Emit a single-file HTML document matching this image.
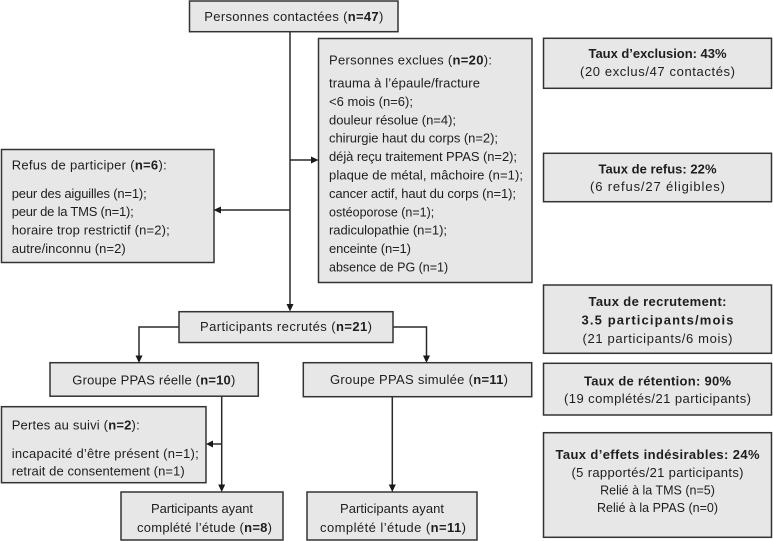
<!DOCTYPE html>
<html>
<head>
<meta charset="utf-8">
<style>
  html,body{margin:0;padding:0;background:#fff;}
  svg{display:block;}
  text{font-family:"Liberation Sans", Arial, sans-serif;font-size:13px;fill:#1e1e1e;}
  .b{font-weight:bold;}
  .s{font-size:12.5px;}
</style>
</head>
<body>
<svg width="773" height="541" viewBox="0 0 773 541" xmlns="http://www.w3.org/2000/svg">
  <rect x="0" y="0" width="773" height="541" fill="#fff"/>

  <!-- connector lines -->
  <g stroke="#2a2a2a" stroke-width="1.5" fill="none">
    <line x1="290" y1="32" x2="290" y2="305"/>
    <line x1="290" y1="160" x2="312" y2="160"/>
    <line x1="290" y1="210" x2="220" y2="210"/>
    <polyline points="179,327 139,327 139,357"/>
    <polyline points="393,327 426.5,327 426.5,357"/>
    <line x1="221.7" y1="396" x2="221.7" y2="486"/>
    <line x1="221.7" y1="444" x2="212" y2="444"/>
    <line x1="392.3" y1="397" x2="392.3" y2="486"/>
  </g>

  <!-- boxes -->
  <g fill="#e7e7e7" stroke="#333" stroke-width="1.5">
    <rect x="189.5" y="1" width="208.5" height="30.7"/>
    <rect x="318.5" y="38.5" width="213.5" height="244"/>
    <rect x="1.5" y="149.5" width="212.5" height="113"/>
    <rect x="179" y="311.7" width="214" height="30.8"/>
    <rect x="50" y="362.7" width="208.3" height="33.5"/>
    <rect x="303.3" y="362.7" width="228.4" height="34"/>
    <rect x="1.5" y="406.7" width="204.5" height="76"/>
    <rect x="121" y="492" width="162" height="48"/>
    <rect x="307" y="492" width="170" height="48"/>
    <rect x="543.5" y="38.3" width="228" height="50"/>
    <rect x="543.5" y="153.3" width="228" height="48.4"/>
    <rect x="543.5" y="285" width="228" height="68.3"/>
    <rect x="543.5" y="363.3" width="228" height="51.7"/>
    <rect x="543.5" y="432.7" width="228" height="104.6"/>
  </g>

  <!-- arrowheads -->
  <g fill="#1a1a1a">
    <polygon points="286.5,304 293.5,304 290,311.5"/>
    <polygon points="311,156.5 311,163.5 318.5,160"/>
    <polygon points="221,206.5 221,213.5 213.5,210"/>
    <polygon points="135.5,355.5 142.5,355.5 139,363"/>
    <polygon points="423,355.5 430,355.5 426.5,363"/>
    <polygon points="218.2,484.5 225.2,484.5 221.7,492"/>
    <polygon points="213,440.5 213,447.5 206,444"/>
    <polygon points="388.8,484.5 395.8,484.5 392.3,492"/>
  </g>

  <!-- top box -->
  <text x="204.3" y="21" textLength="179">Personnes contactées (<tspan class="b">n=47</tspan>)</text>

  <!-- excluded box -->
  <text x="329" y="64.5" textLength="163">Personnes exclues (<tspan class="b">n=20</tspan>):</text>
  <text x="329" y="87.5" textLength="151">trauma à l’épaule/fracture</text>
  <text x="329" y="105.9" textLength="84">&lt;6 mois (n=6);</text>
  <text x="329" y="124.3" textLength="127">douleur résolue (n=4);</text>
  <text x="329" y="142.7" textLength="169">chirurgie haut du corps (n=2);</text>
  <text x="329" y="161.1" textLength="188">déjà reçu traitement PPAS (n=2);</text>
  <text x="329" y="179.5" textLength="194">plaque de métal, mâchoire  (n=1);</text>
  <text x="329" y="197.9" textLength="187">cancer actif, haut du corps (n=1);</text>
  <text class="s" x="329" y="216.3">ostéoporose (n=1);</text>
  <text x="329" y="234.7" textLength="118">radiculopathie (n=1);</text>
  <text x="329" y="253.1" textLength="82">enceinte (n=1)</text>
  <text class="s" x="329" y="271.5">absence de PG (n=1)</text>

  <!-- refus box -->
  <text x="11.7" y="169.5" textLength="155">Refus de participer (<tspan class="b">n=6</tspan>):</text>
  <text x="11.7" y="197.8" textLength="135">peur des aiguilles (n=1);</text>
  <text x="11.7" y="216.2" textLength="122">peur de la TMS (n=1);</text>
  <text x="11.7" y="234.5" textLength="158">horaire trop restrictif (n=2);</text>
  <text x="11.7" y="252.8" textLength="114">autre/inconnu (n=2)</text>

  <!-- recrutés -->
  <text x="200" y="331.2" textLength="172">Participants recrutés (<tspan class="b">n=21</tspan>)</text>

  <!-- groups -->
  <text x="72.3" y="384.5" textLength="163">Groupe PPAS réelle (<tspan class="b">n=10</tspan>)</text>
  <text x="330" y="384.2" textLength="178">Groupe PPAS simulée (<tspan class="b">n=11</tspan>)</text>

  <!-- pertes -->
  <text x="11.7" y="429.5" textLength="128">Pertes au suivi (<tspan class="b">n=2</tspan>):</text>
  <text x="11.7" y="457.8" textLength="187">incapacité d’être présent (n=1);</text>
  <text x="11.7" y="475.5" textLength="173">retrait de consentement (n=1)</text>

  <!-- bottom boxes -->
  <text x="151" y="512.8" textLength="102">Participants ayant</text>
  <text x="137" y="531.8" textLength="135">complété l’étude (<tspan class="b">n=8</tspan>)</text>
  <text x="340" y="512.8" textLength="104">Participants ayant</text>
  <text x="320" y="531.8" textLength="146">complété l’étude (<tspan class="b">n=11</tspan>)</text>

  <!-- right column -->
  <text class="b" x="588.5" y="58" textLength="138">Taux d’exclusion: 43%</text>
  <text x="580" y="76" textLength="155">(20 exclus/47 contactés)</text>

  <text class="b" x="598.5" y="173.5" textLength="118">Taux de refus: 22%</text>
  <text x="590" y="191" textLength="135">(6 refus/27 éligibles)</text>

  <text class="b" x="588.5" y="306" textLength="138">Taux de recrutement:</text>
  <text class="b" x="581.5" y="324.5" textLength="152">3.5 participants/mois</text>
  <text x="582.5" y="343" textLength="150">(21 participants/6 mois)</text>

  <text class="b" x="584" y="385.5" textLength="147">Taux de rétention: 90%</text>
  <text x="564" y="403" textLength="187">(19 complétés/21 participants)</text>

  <text class="b" x="555.5" y="459" textLength="204">Taux d’effets indésirables: 24%</text>
  <text x="571.5" y="477" textLength="172">(5 rapportés/21 participants)</text>
  <text class="s" x="657.5" y="494.5" text-anchor="middle">Relié à la TMS (n=5)</text>
  <text class="s" x="657.5" y="512" text-anchor="middle">Relié à la PPAS (n=0)</text>
</svg>
</body>
</html>
